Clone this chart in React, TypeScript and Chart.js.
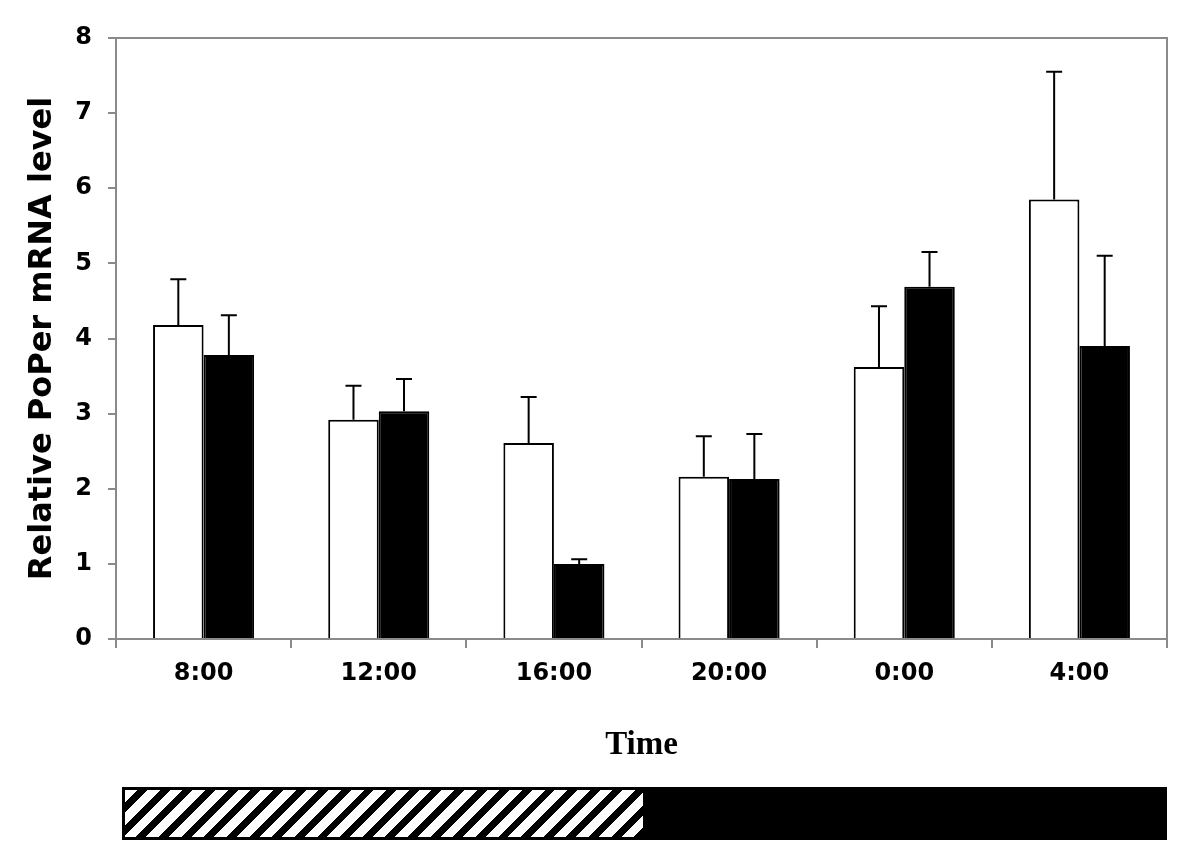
import React, { useEffect, useRef } from "react";
import { Chart, registerables } from "chart.js";

Chart.register(...registerables);

const categories = ["8:00", "12:00", "16:00", "20:00", "0:00", "4:00"];
const whiteValues = [4.18, 2.92, 2.61, 2.16, 3.62, 5.85];
const whiteErrors = [0.61, 0.45, 0.61, 0.54, 0.81, 1.70];
const blackValues = [3.78, 3.03, 1.0, 2.13, 4.69, 3.9];
const blackErrors = [0.53, 0.43, 0.06, 0.6, 0.46, 1.2];
const yMin = 0;
const yMax = 8;
const yStep = 1;

const AXIS_GRAY = "#8a8a8a";

const errorBarPlugin = {
  id: "errorBars",
  afterDatasetsDraw(chart: any) {
    const ctx = chart.ctx;
    const yScale = chart.scales.y;
    chart.data.datasets.forEach((ds: any, i: number) => {
      const meta = chart.getDatasetMeta(i);
      const errs: number[] = ds.errors || [];
      meta.data.forEach((bar: any, j: number) => {
        const v = ds.data[j];
        const e = errs[j];
        if (e == null) return;
        const yTop = yScale.getPixelForValue(v + e);
        const yBase = bar.y;
        ctx.save();
        ctx.strokeStyle = "#000";
        ctx.lineWidth = 2;
        ctx.beginPath();
        ctx.moveTo(bar.x, yBase);
        ctx.lineTo(bar.x, yTop);
        ctx.moveTo(bar.x - 8, yTop);
        ctx.lineTo(bar.x + 8, yTop);
        ctx.stroke();
        ctx.restore();
      });
    });
  },
};

const framePlugin = {
  id: "frame",
  beforeDatasetsDraw(chart: any) {
    const { ctx, chartArea } = chart;
    ctx.save();
    ctx.strokeStyle = AXIS_GRAY;
    ctx.lineWidth = 2;
    ctx.beginPath();
    ctx.moveTo(chartArea.left, chartArea.top);
    ctx.lineTo(chartArea.right, chartArea.top);
    ctx.lineTo(chartArea.right, chartArea.bottom);
    ctx.stroke();
    ctx.restore();
  },
};

export default function App() {
  const canvasRef = useRef<HTMLCanvasElement | null>(null);

  useEffect(() => {
    if (!canvasRef.current) return;
    const tickFont = { family: "'DejaVu Sans', Verdana, sans-serif", weight: "bold" as const, size: 24 };
    const chart = new Chart(canvasRef.current, {
      type: "bar",
      data: {
        labels: categories,
        datasets: [
          {
            data: whiteValues,
            errors: whiteErrors,
            backgroundColor: "#ffffff",
            borderColor: "#000000",
            borderWidth: 2,
            barPercentage: 1,
            categoryPercentage: 0.577,
          } as any,
          {
            data: blackValues,
            errors: blackErrors,
            backgroundColor: "#000000",
            borderColor: "#000000",
            borderWidth: 2,
            barPercentage: 1,
            categoryPercentage: 0.577,
          } as any,
        ],
      },
      options: {
        animation: false,
        responsive: false,
        maintainAspectRatio: false,
        layout: { padding: { left: 0, top: 38, right: 33, bottom: 96 } },
        plugins: {
          legend: { display: false },
          tooltip: { enabled: false },
        },
        scales: {
          x: {
            grid: {
              display: true,
              drawOnChartArea: false,
              drawTicks: true,
              tickLength: 9,
              color: AXIS_GRAY,
              lineWidth: 2,
              offset: true,
            },
            border: { color: AXIS_GRAY, width: 2 },
            ticks: { font: tickFont, color: "#000", padding: 11, maxRotation: 0 },
            title: {
              display: true,
              text: "Time",
              color: "#000",
              font: { family: "'Liberation Serif', 'Times New Roman', serif", weight: "bold", size: 33 },
              padding: { top: 0, bottom: 5 },
            },
            afterFit: (s: any) => {
              s.height = 131;
            },
          },
          y: {
            min: yMin,
            max: yMax,
            ticks: { stepSize: yStep, font: tickFont, color: "#000", padding: 16 },
            grid: {
              drawOnChartArea: false,
              drawTicks: true,
              tickLength: 8,
              color: AXIS_GRAY,
              lineWidth: 2,
            },
            border: { color: AXIS_GRAY, width: 2 },
            title: {
              display: true,
              text: "Relative PoPer mRNA level",
              color: "#000",
              font: { family: "'DejaVu Sans', Verdana, sans-serif", weight: "bold", size: 32 },
              padding: { top: 23, bottom: 0 },
            },
            afterFit: (s: any) => {
              s.width = 116;
            },
          },
        },
      } as any,
      plugins: [errorBarPlugin, framePlugin],
    });
    return () => chart.destroy();
  }, []);

  return (
    <div style={{ position: "absolute", left: 0, top: 0, width: 1200, height: 866, background: "#fff" }}>
      <canvas ref={canvasRef} width={1200} height={866} style={{ display: "block", width: 1200, height: 866 }} />
      <div
        style={{
          position: "absolute",
          left: 122,
          top: 787,
          width: 1045,
          height: 53,
          border: "3px solid #000",
          boxSizing: "border-box",
          display: "flex",
          background: "#000",
        }}
      >
        <div
          style={{
            width: 518,
            height: "100%",
            background: "repeating-linear-gradient(135deg, #fff 0px, #fff 9px, #000 9px, #000 16px)",
          }}
        />
      </div>
    </div>
  );
}
